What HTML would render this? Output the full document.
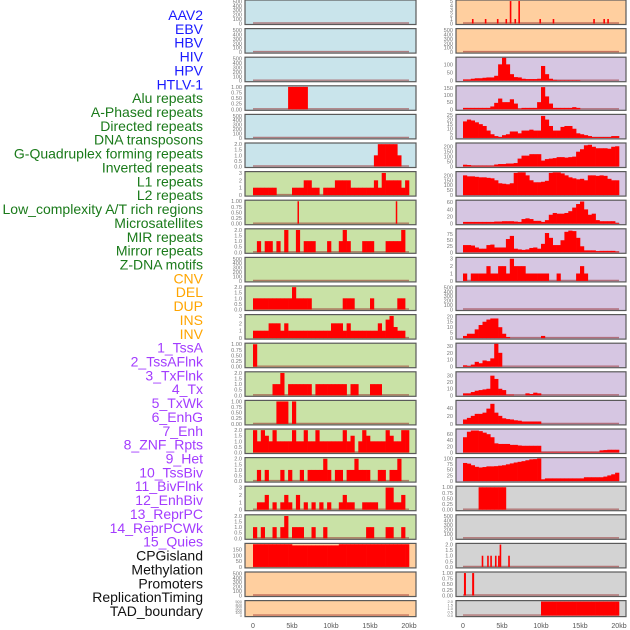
<!DOCTYPE html>
<html><head><meta charset="utf-8">
<style>
html,body{margin:0;padding:0;background:#fff;}
svg{display:block;font-family:"Liberation Sans",sans-serif;}
</style></head>
<body>
<svg id="chart" width="630" height="630" viewBox="0 0 630 630" xmlns="http://www.w3.org/2000/svg">
<g id="labels"></g>
<g id="panels"></g>
<g id="xaxes"></g>
</svg>
<script>
// ---- labels ----
const trackLabels = ["AAV2","EBV","HBV","HIV","HPV","HTLV-1","Alu repeats","A-Phased repeats","Directed repeats","DNA transposons","G-Quadruplex forming repeats","Inverted repeats","L1 repeats","L2 repeats","Low_complexity A/T rich regions","Microsatellites","MIR repeats","Mirror repeats","Z-DNA motifs","CNV","DEL","DUP","INS","INV","1_TssA","2_TssAFlnk","3_TxFlnk","4_Tx","5_TxWk","6_EnhG","7_Enh","8_ZNF_Rpts","9_Het","10_TssBiv","11_BivFlnk","12_EnhBiv","13_ReprPC","14_ReprPCWk","15_Quies","CPGisland","Methylation","Promoters","ReplicationTiming","TAD_boundary"];
const labelGroups = [6,13,5,15,5]; // blue, green, orange, purple, black
const groupColors = ["#1a1aff","#1a7a1a","#ffa500","#a33cff","#111111"];

// ---- x axis ----
const xTicks = [0,5,10,15,20];
const xTickLabels = ["0","5kb","10kb","15kb","20kb"];

// ---- left column data (40 bins of 0.5kb) ----
const leftAlu = [0,0,0,0,0,0,0,0,0,1,1,1,1,1,0,0,0,0,0,0,0,0,0,0,0,0,0,0,0,0,0,0,0,0,0,0,0,0,0,0];
const leftGQuad = [0,0,0,0,0,0,0,0,0,0,0,0,0,0,0,0,0,0,0,0,0,0,0,0,0,0,0,0,0,0,0,1,2,2,2,2,2,1,0,0];
const leftL1 = [1,1,1,1,1,1,0,0,0,0,1,1,1,2,2,1,1,0,1,1,1,2,2,2,2,1,1,1,1,1,1,2,1,3,2,2,2,2,1,2];
const leftLowPos = [5.8,18.4];
const leftLowH = [1,1];
const leftMIR = [0,1,0,1,1,0,1,0,2,0,0,2,0,1,1,1,0,0,0,1,0,0,1,2,1,0,0,0,1,1,1,0,0,0,1,1,1,1,2,0];
const leftCNV = [1,1,1,1,1,1,1,1,1,1,2,1,1,1,1,0,0,0,0,0,0,0,0,1,1,1,0,0,0,0,1,0,0,0,0,0,0,1,1,0];
const leftDEL = [1,1,1,1,2,2,2,1,2,1,1,1,1,1,1,1,1,1,1,1,2,2,2,1,2,1,1,1,1,1,1,1,2,1,2.5,3,1.5,1,1,0];
const leftTssA = [1,0,0,0,0,0,0,0,0,0,0,0,0,0,0,0,0,0,0,0,0,0,0,0,0,0,0,0,0,0,0,0,0,0,0,0,0,0,0,0];
const leftTxFlnk = [0,0,0,0,0,1,1,2,0,1,1,1,1,1,1,0,1,1,1,1,1,1,1,1,0,1,1,0,0,0,1,1,1,0,0,0,0,0,0,0];
const leftTxWk = [0,0,0,0,0,0,1,1,1,0,1,0,0,0,0,0,0,0,0,0,0,0,0,0,0,0,0,0,0,0,0,0,0,0,0,0,0,0,0,0];
const leftEnh = [2,1,2,1.5,1,2,1,1,1,1,2,1,1,2,1,1,2,1,1,1,1,1,1,2,1,1.5,0,1,2,1.5,1,1,1,1,2,1.5,1,1,2,2];
const leftHet = [0,1,0,1,0,0,0,1,0,1,0,0,1,0,1,1,1,1,2,1,0,1,1,0,1,1,2,1,1,1,0,0,1,1,0,1,1,2,0,0];
const leftBivFlnk = [0,1,1,2,0,1,0,1,2,1,0,2,0,1,0,1,0,1,0,1,0,0,1,2,1,1,0,0,1,1,1,1,0,0,3,3,1,1,2,0];
const leftReprPC = [1,0,1,0,0,1,0,1,2,0,1,1,1,0,0,1,0,0,1,0,0,0,0,0,0,0,0,0,0,1,1,0,0,0,1,1,0,0,1,0];
const leftCPG = [196,196,196,196,196,196,196,196,196,196,186,186,186,186,186,186,186,186,186,186,186,186,196,196,196,196,196,196,196,196,196,196,196,196,196,196,196,196,196,196];

// ---- right column data ----
const rightAAV2Pos = [1.25,2.9,4.45,5.55,6.1,6.7,7.2,9.9,11.6,16.8,18.1,18.6];
const rightAAV2H = [1,1,1,1,5,1,5,1,1,1,1,1];
const rightHIV = [8,8,12,15,15,18,20,20,30,100,140,100,40,22,20,12,10,10,10,12,90,40,12,5,3,3,3,3,3,3,0,0,0,0,0,0,0,0,0,0];
const rightHPV = [10,10,10,10,10,10,10,20,45,75,50,50,70,40,5,10,10,10,10,50,155,90,40,10,10,10,10,10,15,10,0,0,0,0,0,0,0,0,0,0];
const rightAlu = [18,20,19,17,15,13,8,4,2,1,3,4,7,7,5,8,8,9,8,8,24,20,13,8,8,12,13,13,10,5,4,3,2,1,1,1,1,1,2,2];
const rightDirected = [18,15,8,8,8,8,8,8,20,25,25,30,30,35,80,110,110,125,125,125,60,75,80,85,95,95,90,95,100,150,175,215,220,200,185,185,185,180,200,205];
const rightInverted = [200,190,190,185,180,180,175,170,150,120,115,110,120,225,230,230,200,150,130,130,135,145,225,230,230,220,200,180,170,160,165,150,200,200,195,200,195,165,150,150];
const rightLow = [5,5,5,5,5,5,5,5,6,6,7,7,7,6,5,13,15,13,8,8,5,10,25,30,28,28,30,35,45,55,62,40,25,28,10,7,7,7,7,2];
const rightMIR = [30,30,28,20,15,15,30,32,20,20,20,55,68,15,12,10,12,18,20,15,35,80,60,30,30,50,85,90,88,60,25,8,8,8,5,6,6,6,6,3];
const rightMirror = [1,0,1,1,1,1,2,1,1,2,2,1,3,2,2,2,1,1,1,1,1,1,0,0,1,0,0,0,0,1,2,1,0,0,0,0,0,0,0,0];
const rightDEL = [2,4,4,8,12,15,17,18,18,10,4,1,0,0,0,0,0,0,0,0,2,0,0,0,0,0,0,0,0,0,0,0,0,0,0,0,0,0,0,0];
const rightINS = [2,1,3,7,5,9,8,12,33,20,0,0,0,0,0,0,0,0,0,0,0,0,0,0,0,0,0,0,0,0,0,0,0,0,0,0,0,0,0,0];
const rightINV = [3,3,5,7,8,9,10,30,25,10,8,1,1,0,0,0,3,2,4,3,0,0,0,0,0,0,0,0,0,0,0,0,0,0,0,0,0,0,0,0];
const rightTssA = [11,15,20,25,25,28,38,50,28,20,14,12,11,9,8,6,6,6,6,6,0,0,0,0,0,0,0,0,0,0,0,0,0,0,0,0,0,0,0,0];
const rightTssAFlnk = [50,68,72,72,70,65,60,50,30,28,28,28,25,25,23,22,22,22,22,22,2,2,2,2,2,2,2,2,2,2,2,2,2,2,2,7,8,9,9,9];
const rightTxFlnk = [80,77,70,63,60,62,65,65,66,68,70,74,78,82,85,88,92,96,97,100,8,12,12,12,12,12,12,12,12,12,12,17,17,17,17,17,20,25,30,37];
const rightBivFlnk = [0,0,0,0,1,1,1,1,1,1,1,0,0,0,0,0,0,0,0,0,0,0,0,0,0,0,0,0,0,0,0,0,0,0,0,0,0,0,0,0];
const rightCPGPos = [2.5,3.2,3.6,4.2,4.6,4.8,5.9];
const rightCPGH = [1,1,1,1,1,2,1];
const rightPromPos = [0.25,1.3];
const rightPromH = [1,1];
const rightTAD = [0,0,0,0,0,0,0,0,0,0,0,0,0,0,0,0,0,0,0,0,2,2,2,2,2,2,2,2,2,2,2,2,2,2,2,2,2,2,2,2];

// tick sets
const T500 = [0,100,200,300,400,500];
const T1 = [0,0.25,0.5,0.75,1];
const T2 = [0,0.5,1,1.5,2];
const T3 = [0,1,2,3];

const BLUE="#c9e4eb", GREEN="#c9e2a6", PEACH="#ffcf9f", LAV="#d6c6e2", GRAY="#d3d3d3";

const leftPanels = [
 {bg:BLUE,ymax:520,ticks:T500,dec:0},
 {bg:BLUE,ymax:520,ticks:T500,dec:0},
 {bg:BLUE,ymax:520,ticks:T500,dec:0},
 {bg:BLUE,ymax:1.02,ticks:T1,dec:2,bins:leftAlu},
 {bg:BLUE,ymax:520,ticks:T500,dec:0},
 {bg:BLUE,ymax:2.05,ticks:T2,dec:1,bins:leftGQuad},
 {bg:GREEN,ymax:3.1,ticks:T3,dec:0,bins:leftL1},
 {bg:GREEN,ymax:1.02,ticks:T1,dec:2,pos:leftLowPos,h:leftLowH,sw:1.5},
 {bg:GREEN,ymax:2.05,ticks:T2,dec:1,bins:leftMIR},
 {bg:GREEN,ymax:520,ticks:T500,dec:0},
 {bg:GREEN,ymax:2.05,ticks:T2,dec:1,bins:leftCNV},
 {bg:GREEN,ymax:3.1,ticks:T3,dec:0,bins:leftDEL},
 {bg:GREEN,ymax:1.02,ticks:T1,dec:2,bins:leftTssA},
 {bg:GREEN,ymax:2.05,ticks:T2,dec:1,bins:leftTxFlnk},
 {bg:GREEN,ymax:1.02,ticks:T1,dec:2,bins:leftTxWk},
 {bg:GREEN,ymax:2.05,ticks:T2,dec:1,bins:leftEnh},
 {bg:GREEN,ymax:2.05,ticks:T2,dec:1,bins:leftHet},
 {bg:GREEN,ymax:3.1,ticks:T3,dec:0,bins:leftBivFlnk},
 {bg:GREEN,ymax:2.05,ticks:T2,dec:1,bins:leftReprPC},
 {bg:PEACH,ymax:198,ticks:[0,50,100,150],dec:0,bins:leftCPG},
 {bg:PEACH,ymax:520,ticks:T500,dec:0},
 {bg:PEACH,ymax:520,ticks:T500,dec:0}
];
const rightPanels = [
 {bg:PEACH,ymax:5.1,ticks:[0,1,2,3,4,5],dec:0,pos:rightAAV2Pos,h:rightAAV2H,sw:1.6},
 {bg:PEACH,ymax:520,ticks:T500,dec:0},
 {bg:LAV,ymax:140,ticks:[0,50,100],dec:0,bins:rightHIV},
 {bg:LAV,ymax:160,ticks:[0,50,100,150],dec:0,bins:rightHPV},
 {bg:LAV,ymax:25,ticks:[0,5,10,15,20,25],dec:0,bins:rightAlu},
 {bg:LAV,ymax:232,ticks:[0,50,100,150,200],dec:0,bins:rightDirected},
 {bg:LAV,ymax:232,ticks:[0,50,100,150,200],dec:0,bins:rightInverted},
 {bg:LAV,ymax:64,ticks:[0,20,40,60],dec:0,bins:rightLow},
 {bg:LAV,ymax:95,ticks:[0,25,50,75],dec:0,bins:rightMIR},
 {bg:LAV,ymax:3.1,ticks:T3,dec:0,bins:rightMirror},
 {bg:LAV,ymax:520,ticks:T500,dec:0},
 {bg:LAV,ymax:21,ticks:[0,5,10,15,20],dec:0,bins:rightDEL},
 {bg:LAV,ymax:33,ticks:[0,10,20,30],dec:0,bins:rightINS},
 {bg:LAV,ymax:35,ticks:[0,10,20,30],dec:0,bins:rightINV},
 {bg:LAV,ymax:57,ticks:[0,20,40],dec:0,bins:rightTssA},
 {bg:LAV,ymax:75,ticks:[0,20,40,60],dec:0,bins:rightTssAFlnk},
 {bg:LAV,ymax:101,ticks:[0,25,50,75,100],dec:0,bins:rightTxFlnk},
 {bg:GRAY,ymax:1.02,ticks:T1,dec:2,bins:rightBivFlnk},
 {bg:GRAY,ymax:520,ticks:T500,dec:0},
 {bg:GRAY,ymax:2.05,ticks:T2,dec:1,pos:rightCPGPos,h:rightCPGH,sw:1.6},
 {bg:GRAY,ymax:1.02,ticks:T1,dec:2,pos:rightPromPos,h:rightPromH,sw:2},
 {bg:GRAY,ymax:2.05,ticks:T2,dec:1,bins:rightTAD}
];

const NS="http://www.w3.org/2000/svg";
function mk(tag, attrs, parent){const e=document.createElementNS(NS,tag);for(const k in attrs)e.setAttribute(k,attrs[k]);parent.appendChild(e);return e;}

// labels
const lg=document.getElementById('labels');
let gi=0,cnt=0;
trackLabels.forEach((t,i)=>{
  while(cnt>=labelGroups[gi]){cnt=0;gi++;}
  cnt++;
  const el=mk('text',{x:203,y:(15+13.86*i+5).toFixed(1),'text-anchor':'end','font-size':'14',fill:groupColors[gi]},lg);
  
  
  el.textContent=t;
});

const cols=[{x0:245,x1:416,z:253,panels:leftPanels,name:'left'},{x0:456,x1:626,z:463,panels:rightPanels,name:'right'}];
const KB=7.8;
const pg=document.getElementById('panels');
cols.forEach(col=>{
  const xs=kb=>col.z+kb*KB;
  col.panels.forEach((p,r)=>{
    const top=28.6*r, h=(r===21?16:24.5);
    const g=mk('g',{},pg);
    
    
    const bg=mk('rect',{x:col.x0,y:top,width:col.x1-col.x0,height:h,fill:p.bg,stroke:'#5a5a5a','stroke-width':1.2},g);
    
    
    const yb=top+h-1, yt=top+0.6;
    const ys=v=>yb-(v/p.ymax)*(yb-yt);
    // ticks
    const fs = r===21?4:5.6;
    const tks = p.ticks;
    tks.forEach(v=>{
      const t=mk('text',{x:col.x0-3,y:(ys(v)+fs*0.35).toFixed(1),'text-anchor':'end','font-size':fs,fill:'#777'},g);
      
      
      t.textContent=v.toFixed(p.dec);
    });
    // baseline
    const bl=mk('line',{x1:xs(0),x2:xs(20),y1:yb-0.5,y2:yb-0.5,stroke:'rgba(150,40,40,0.55)','stroke-width':1.4},g);
    
    
    if(p.bins){
      p.bins.forEach((v,i)=>{
        if(v<=0)return;
        const b=mk('rect',{x:xs(i*0.5).toFixed(2),y:ys(v).toFixed(2),width:(0.5*KB+0.3).toFixed(2),height:(yb-ys(v)).toFixed(2),fill:'#ff0000'},g);
        
        
      });
    }
    if(p.pos){
      p.pos.forEach((kb,i)=>{
        const v=p.h[i];
        const b=mk('rect',{x:(xs(kb)-p.sw/2).toFixed(2),y:ys(v).toFixed(2),width:p.sw,height:(yb-ys(v)).toFixed(2),fill:'#ff0000'},g);
        
        
      });
    }
  });
  const xg=document.getElementById('xaxes');
  xTicks.forEach((kb,i)=>{
    const t=mk('text',{x:xs(kb),y:628,'text-anchor':'middle','font-size':'7',fill:'#555'},xg);
    
    
    t.textContent=xTickLabels[i];
  });
});
</script>
</body></html>
